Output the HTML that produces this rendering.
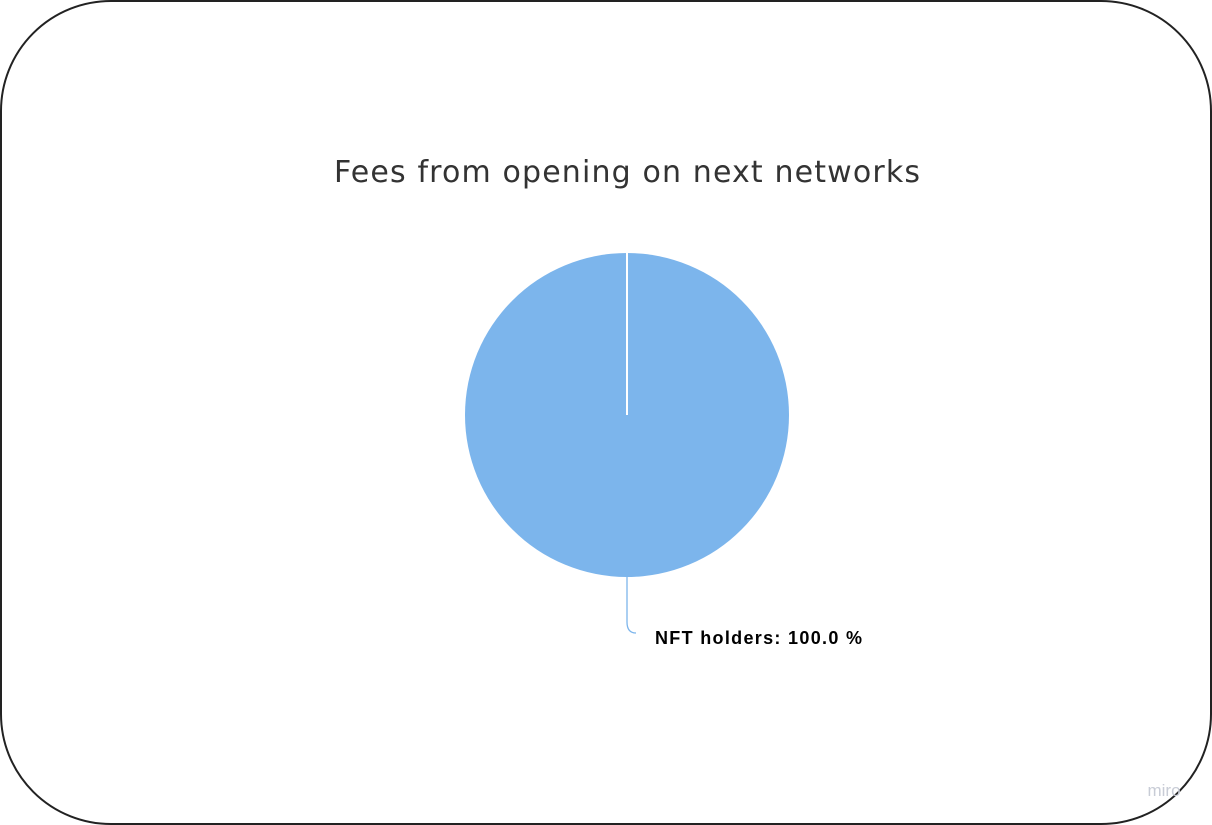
<!DOCTYPE html>
<html><head><meta charset="utf-8"><style>
html,body{margin:0;padding:0;background:#fff;width:1212px;height:825px;overflow:hidden}
svg{display:block}
</style></head><body>
<svg width="1212" height="825">
<rect x="1" y="1" width="1210" height="823" rx="110" ry="110" fill="#fff" stroke="#222" stroke-width="2"/>
<text x="627" y="182" text-anchor="middle" font-family="'DejaVu Sans','Liberation Sans',sans-serif" font-size="30" fill="#333" textLength="586">Fees from opening on next networks</text>
<g id="pie"></g>
<text x="1164" y="796" text-anchor="middle" font-family="'Liberation Sans',sans-serif" font-size="17" fill="#c8ccd6">miro</text>
</svg>
<script>
const categories = ["NFT holders"];
const values = [100];
const colors = ["#7cb5ec"];
const cx = 627, cy = 415, r = 162;
const g = document.getElementById('pie');
const NS = 'http://www.w3.org/2000/svg';
const total = values.reduce((a,b)=>a+b,0);
let ang = -Math.PI/2;
values.forEach((v,i)=>{
  const frac = v/total;
  const a2 = ang + frac*2*Math.PI;
  let el;
  if (frac >= 0.9999) {
    el = document.createElementNS(NS,'circle');
    el.setAttribute('cx',cx); el.setAttribute('cy',cy); el.setAttribute('r',r);
  } else {
    el = document.createElementNS(NS,'path');
    const large = frac>0.5?1:0;
    el.setAttribute('d',`M${cx},${cy} L${cx+r*Math.cos(ang)},${cy+r*Math.sin(ang)} A${r},${r} 0 ${large} 1 ${cx+r*Math.cos(a2)},${cy+r*Math.sin(a2)} Z`);
  }
  el.setAttribute('fill',colors[i%colors.length]);
  
  
  g.appendChild(el);
  const ln = document.createElementNS(NS,'line');
  ln.setAttribute('x1',cx); ln.setAttribute('y1',cy);
  ln.setAttribute('x2',cx+r*Math.cos(ang)); ln.setAttribute('y2',cy+r*Math.sin(ang));
  ln.setAttribute('stroke','#fff'); ln.setAttribute('stroke-width','2');
  
  
  g.appendChild(ln);
  const mid = (ang+a2)/2;
  const lx = cx + r*Math.cos(mid), ly = cy + r*Math.sin(mid);
  const conn = document.createElementNS(NS,'path');
  conn.setAttribute('d',`M${lx},${ly} L${lx},${ly+45} Q${lx},${ly+56} ${lx+9},${ly+56}`);
  conn.setAttribute('fill','none'); conn.setAttribute('stroke',colors[i%colors.length]); conn.setAttribute('stroke-width','1.3');
  
  
  g.appendChild(conn);
  const t = document.createElementNS(NS,'text');
  t.setAttribute('x',lx+28); t.setAttribute('y',ly+67);
  t.setAttribute('font-family',"'Liberation Sans','DejaVu Sans',sans-serif");
  t.setAttribute('font-size','18'); t.setAttribute('font-weight','bold'); t.setAttribute('fill','#000');
  t.setAttribute('textLength','207');
  t.textContent = categories[i] + ': ' + (frac*100).toFixed(1) + ' %';
  
  
  g.appendChild(t);
  ang = a2;
});
</script>
</body></html>
